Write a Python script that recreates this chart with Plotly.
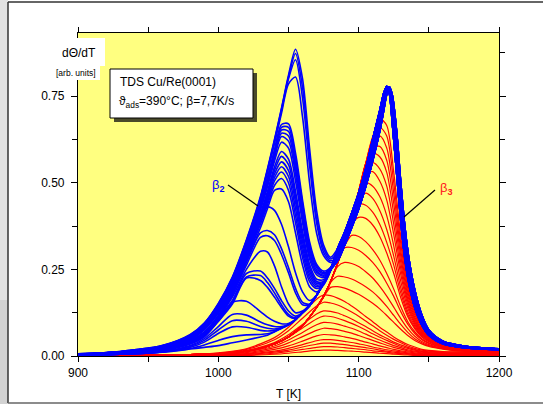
import plotly.graph_objects as go

# ---------------- data ----------------
T_blue = [900, 930, 960, 980, 990, 1000, 1010, 1020, 1030, 1035, 1040, 1045, 1050, 1055, 1060, 1065, 1070, 1075, 1080]
T_tail = [1085, 1090, 1095, 1100, 1105, 1110, 1115, 1118, 1120, 1122, 1124, 1127, 1130, 1133, 1136, 1140, 1145, 1150, 1160, 1175, 1200]

tail_a = [.31, .357, .412, .47, .54, .625, .708, .76, .778, .755, .67, .53, .39, .28, .205, .14, .09, .06, .035, .024, .018]
tail_b = [.30, .345, .398, .455, .523, .605, .69, .748, .776, .768, .70, .57, .425, .31, .228, .155, .099, .064, .037, .026, .019]
tail_c = [.288, .333, .384, .44, .505, .585, .67, .732, .77, .776, .73, .61, .46, .34, .252, .172, .108, .069, .04, .027, .02]
tail_d = [.275, .32, .37, .424, .488, .563, .648, .712, .755, .775, .752, .65, .50, .37, .275, .19, .118, .075, .043, .029, .021]

b01 = [.006, .013, .03, .062, .095, .152, .228, .335, .46, .54, .625, .715, .81, .885, .80, .60, .42, .32, .285]
b02 = [.006, .013, .03, .061, .094, .15, .226, .333, .457, .537, .622, .712, .805, .873, .775, .575, .40, .31, .28]
b03 = [.006, .012, .029, .06, .093, .149, .224, .33, .454, .534, .618, .708, .80, .855, .745, .55, .385, .30, .275]
b04 = [.005, .012, .029, .059, .092, .147, .222, .327, .45, .53, .613, .70, .785, .805, .69, .50, .355, .29, .27]
b05 = [.005, .012, .028, .058, .09, .145, .218, .32, .44, .515, .595, .668, .67, .585, .45, .33, .265, .245, .255]
b06 = [.005, .012, .028, .057, .089, .143, .216, .318, .437, .51, .59, .66, .66, .57, .44, .32, .26, .24, .255]
b07 = [.005, .011, .027, .056, .088, .142, .214, .315, .433, .505, .585, .652, .648, .555, .43, .31, .255, .237, .255]
b08 = [.005, .011, .027, .055, .087, .14, .212, .312, .43, .5, .578, .643, .635, .54, .415, .30, .248, .233, .252]
b09 = [.005, .011, .026, .054, .086, .139, .21, .31, .426, .495, .572, .633, .62, .525, .40, .29, .242, .23, .25]
b10 = [.005, .011, .026, .054, .085, .137, .208, .306, .42, .488, .562, .617, .60, .505, .385, .28, .235, .226, .25]
b11 = [.004, .01, .025, .053, .083, .135, .204, .30, .41, .475, .545, .59, .568, .475, .36, .265, .222, .22, .248]
b12 = [.004, .01, .025, .052, .082, .133, .201, .296, .405, .468, .535, .576, .552, .46, .345, .255, .215, .215, .248]
b13 = [.004, .01, .024, .051, .081, .131, .198, .292, .40, .46, .525, .56, .535, .445, .33, .245, .21, .213, .248]
b14 = [.004, .01, .024, .05, .08, .13, .196, .288, .394, .452, .515, .546, .518, .425, .315, .235, .205, .21, .248]
b15 = [.004, .01, .023, .049, .078, .128, .193, .284, .388, .444, .505, .531, .50, .405, .30, .225, .20, .208, .247]
b16 = [.004, .009, .023, .048, .077, .126, .19, .28, .38, .436, .492, .512, .478, .385, .285, .215, .195, .207, .247]
b17 = [.004, .009, .022, .047, .075, .123, .186, .274, .37, .425, .478, .482, .445, .355, .262, .20, .185, .205, .246]
b18 = [.004, .009, .021, .045, .07, .118, .185, .30, .405, .43, .42, .38, .315, .24, .185, .16, .175, .21, .25]
b19 = [.003, .008, .02, .043, .068, .115, .18, .27, .355, .362, .35, .31, .255, .195, .155, .15, .175, .21, .25]
b20 = [.003, .008, .02, .042, .067, .112, .176, .262, .342, .347, .333, .293, .24, .182, .148, .148, .175, .21, .25]
b21 = [.003, .008, .019, .04, .064, .11, .17, .25, .302, .30, .26, .20, .15, .125, .13, .148, .175, .21, .25]
b22 = [.003, .007, .018, .038, .06, .108, .16, .238, .245, .225, .195, .16, .13, .115, .125, .145, .175, .21, .25]
b23 = [.003, .007, .017, .036, .057, .104, .155, .228, .232, .212, .182, .148, .12, .11, .125, .145, .175, .21, .25]
b24 = [.003, .007, .017, .035, .055, .10, .15, .225, .218, .198, .17, .14, .115, .108, .125, .145, .175, .21, .25]
b25 = [.002, .006, .015, .035, .06, .10, .155, .158, .128, .112, .10, .093, .094, .105, .125, .145, .175, .21, .25]
b26 = [.002, .005, .013, .03, .05, .085, .12, .118, .098, .09, .085, .085, .09, .105, .125, .145, .175, .21, .25]
b27 = [.002, .005, .012, .028, .045, .075, .102, .10, .085, .08, .078, .082, .09, .105, .125, .145, .175, .21, .25]
b28 = [.002, .005, .012, .025, .04, .065, .084, .083, .074, .072, .074, .08, .09, .105, .125, .145, .175, .21, .25]
b29 = [.002, .005, .012, .022, .032, .045, .056, .061, .062, .064, .07, .08, .09, .105, .125, .145, .175, .21, .25]
b30 = [.002, .005, .011, .02, .025, .03, .038, .046, .055, .06, .07, .08, .09, .105, .125, .145, .175, .21, .25]

blue_curves = [b01, b02, b03, b04, b05, b06, b07, b08, b09, b10, b11, b12, b13, b14, b15,
               b16, b17, b18, b19, b20, b21, b22, b23, b24, b25, b26, b27, b28, b29, b30]
blue_tails = [tail_a, tail_b, tail_c, tail_d]

T_red = [900, 950, 980, 1000, 1020, 1040, 1050, 1060, 1070, 1075, 1080, 1085, 1090, 1095, 1100, 1105,
         1110, 1115, 1120, 1125, 1130, 1135, 1140, 1145, 1150, 1160, 1170, 1185, 1200]
red_edge = [0, .002, .004, .007, .014, .035, .055, .088, .14, .172, .215, .268, .327, .398, .475, .555, .632, .685]

r01 = red_edge[:18] + [.665, .53, .345, .205, .13, .088, .062, .036, .026, .02, .017]
r02 = red_edge[:17] + [.66, .635, .50, .325, .195, .124, .084, .06, .035, .025, .019, .016]
r03 = red_edge[:16] + [.615, .635, .60, .47, .305, .185, .118, .08, .057, .034, .024, .019, .016]
r04 = red_edge[:16] + [.60, .605, .565, .44, .288, .175, .112, .076, .055, .033, .024, .018, .015]
r05 = red_edge[:16] + [.586, .575, .53, .41, .27, .165, .107, .073, .053, .032, .023, .018, .015]
r06 = red_edge[:15] + [.535, .558, .54, .49, .38, .252, .157, .102, .07, .051, .031, .023, .018, .015]
r07 = red_edge[:15] + [.525, .532, .505, .45, .35, .235, .148, .097, .067, .049, .03, .022, .017, .015]
r08 = red_edge[:14] + [.46, .50, .49, .46, .405, .318, .215, .138, .092, .064, .047, .029, .022, .017, .014]
r09 = red_edge[:14] + [.452, .47, .455, .42, .365, .288, .197, .128, .087, .061, .045, .028, .021, .017, .014]
r10 = red_edge[:13] + [.39, .437, .435, .415, .38, .328, .262, .182, .12, .082, .058, .043, .027, .021, .016, .014]
r11 = red_edge[:13] + [.38, .40, .397, .378, .345, .297, .238, .168, .113, .078, .055, .041, .026, .02, .016, .013]
r12 = red_edge[:12] + [.318, .348, .345, .33, .307, .277, .238, .193, .142, .099, .07, .05, .038, .025, .019, .015, .013]
r13 = red_edge[:12] + [.312, .313, .305, .29, .27, .244, .21, .172, .128, .092, .065, .047, .036, .024, .018, .015, .012]
r14 = red_edge[:11] + [.258, .27, .267, .258, .243, .225, .201, .173, .141, .108, .079, .057, .042, .033, .022, .017, .014, .012]
r15 = red_edge[:10] + [.212, .23, .228, .222, .212, .20, .185, .166, .143, .117, .091, .068, .05, .038, .03, .021, .016, .013, .011]
r16 = red_edge[:9] + [.17, .198, .20, .196, .188, .178, .166, .152, .136, .117, .097, .077, .059, .045, .035, .028, .02, .015, .012, .011]
r17 = [0, .002, .004, .009, .021, .053, .083, .123, .164, .176, .174, .167, .157, .144, .13, .114, .099, .083, .069, .055, .043, .033, .026, .019, .016, .013, .012, .011, .011]
r18 = [0, .002, .004, .008, .019, .047, .073, .109, .144, .155, .153, .147, .138, .127, .115, .101, .087, .073, .06, .048, .038, .029, .022, .017, .014, .012, .011, .01, .009]
r19 = [0, .001, .003, .007, .016, .039, .061, .091, .121, .13, .129, .124, .116, .107, .096, .085, .073, .061, .051, .04, .032, .025, .019, .014, .012, .01, .009, .008, .008]
r20 = [0, .001, .003, .006, .014, .035, .054, .081, .107, .115, .114, .109, .102, .094, .085, .075, .064, .054, .045, .036, .028, .022, .017, .013, .01, .009, .008, .007, .007]
r21 = [0, .001, .002, .005, .012, .029, .046, .068, .09, .097, .096, .092, .086, .08, .072, .063, .054, .046, .038, .03, .024, .018, .014, .011, .009, .007, .007, .006, .006]
r22 = [0, .001, .002, .004, .01, .024, .038, .056, .074, .08, .079, .076, .071, .066, .059, .052, .045, .038, .031, .025, .02, .015, .012, .009, .007, .006, .006, .005, .005]
r23 = [0, .001, .002, .003, .007, .019, .029, .043, .058, .062, .061, .059, .055, .051, .046, .04, .035, .029, .024, .019, .015, .012, .009, .007, .006, .005, .004, .004, .004]
r24 = [0, 0, .001, .002, .006, .014, .022, .033, .044, .047, .047, .045, .042, .039, .035, .031, .026, .022, .018, .015, .012, .009, .007, .005, .004, .004, .003, .003, .003]
r25 = [0, 0, .001, .002, .004, .011, .017, .026, .034, .037, .037, .035, .033, .03, .027, .024, .021, .017, .014, .011, .009, .007, .005, .004, .003, .003, .003, .002, .002]
r26 = [0, 0, .001, .001, .003, .008, .013, .019, .025, .027, .027, .026, .024, .022, .02, .018, .015, .013, .011, .008, .007, .005, .004, .003, .002, .002, .002, .002, .002]
r27 = [0, 0, 0, .001, .002, .005, .008, .012, .016, .017, .017, .016, .015, .014, .013, .011, .01, .008, .007, .005, .004, .003, .002, .002, .002, .001, .001, .001, .001]

red_curves = [r01, r02, r03, r04, r05, r06, r07, r08, r09, r10, r11, r12, r13, r14,
              r15, r16, r17, r18, r19, r20, r21, r22, r23, r24, r25, r26, r27]

x_ticks = [900, 1000, 1100, 1200]
y_ticks = [0.0, 0.25, 0.5, 0.75]

# ---------------- figure ----------------
FONT = "Liberation Sans, Arial, sans-serif"
W, H = 543, 404
L, R, T, B = 78, 44, 33, 48
PW, PH = W - L - R, H - T - B


def px(x):
    return (x - L) / PW


def py(y):
    return (H - B - y) / PH


fig = go.Figure()
for vals in red_curves:
    fig.add_trace(go.Scatter(x=T_red, y=vals, mode="lines",
                             line=dict(color="#FF0000", width=1.2, shape="spline", smoothing=0.8),
                             hoverinfo="skip", showlegend=False))
for i, vals in enumerate(blue_curves):
    fig.add_trace(go.Scatter(x=T_blue + T_tail, y=vals + blue_tails[i % 4], mode="lines",
                             line=dict(color="#0000FF", width=1.6, shape="spline", smoothing=0.8),
                             hoverinfo="skip", showlegend=False))

axis_common = dict(showgrid=False, zeroline=False, showline=True, linecolor="black", linewidth=1.2,
                   mirror="allticks", ticks="outside", tickcolor="black", tickwidth=1,
                   tickfont=dict(family=FONT, size=12, color="black"))

fig.update_layout(
    width=W, height=H, margin=dict(l=L, r=R, t=T, b=B, pad=0),
    paper_bgcolor="white", plot_bgcolor="#FFFF80",
    font=dict(family=FONT, color="black"),
    xaxis=dict(range=[900, 1200], tickvals=x_ticks, ticklen=5,
               minor=dict(tickvals=[950, 1050, 1150], ticks="outside", ticklen=5, tickcolor="black"),
               **axis_common),
    yaxis=dict(range=[0, 0.932], tickvals=y_ticks, tickformat=".2f", ticklen=6, ticklabelstandoff=4,
               minor=dict(tickvals=[0.125, 0.375, 0.625, 0.875], ticks="outside", ticklen=5, tickcolor="black"),
               **axis_common),
)

shapes = [
    # page frame and left shading
    dict(type="rect", xref="paper", yref="paper", x0=px(0), x1=px(8), y0=py(404), y1=py(0),
         fillcolor="#e2e2e2", line=dict(width=0), layer="above"),
    dict(type="rect", xref="paper", yref="paper", x0=px(0), x1=px(8), y0=py(404), y1=py(300),
         fillcolor="#d2d2d2", line=dict(width=0), layer="above"),
    dict(type="line", xref="paper", yref="paper", x0=px(8), x1=px(8), y0=py(403), y1=py(2),
         line=dict(color="#333333", width=1.5), layer="above"),
    dict(type="line", xref="paper", yref="paper", x0=px(8), x1=px(543), y0=py(2), y1=py(2),
         line=dict(color="#333333", width=1.5), layer="above"),
    dict(type="line", xref="paper", yref="paper", x0=px(8), x1=px(543), y0=py(403), y1=py(403),
         line=dict(color="#666666", width=1.5), layer="above"),
    # white patch behind the y label
    dict(type="rect", xref="paper", yref="paper", x0=px(40), x1=px(105), y0=py(66), y1=py(38),
         fillcolor="white", line=dict(width=0), layer="above"),
    dict(type="rect", xref="paper", yref="paper", x0=px(40), x1=px(100), y0=py(80), y1=py(66),
         fillcolor="white", line=dict(width=0), layer="above"),
    # legend box with shadow
    dict(type="rect", xref="paper", yref="paper", x0=px(114), x1=px(257), y0=py(122), y1=py(73),
         fillcolor="#4a4a2a", line=dict(width=0), layer="above"),
    dict(type="rect", xref="paper", yref="paper", x0=px(110), x1=px(253), y0=py(118), y1=py(69),
         fillcolor="white", line=dict(color="black", width=1), layer="above"),
    # pointer lines
    dict(type="line", xref="paper", yref="paper", x0=px(228), x1=px(258), y0=py(185), y1=py(206),
         line=dict(color="black", width=1.2), layer="above"),
    dict(type="line", xref="paper", yref="paper", x0=px(435), x1=px(404), y0=py(190), y1=py(217),
         line=dict(color="black", width=1.2), layer="above"),
]
fig.update_layout(shapes=shapes)

ann = [
    dict(text="d\u0398/dT", x=px(79), y=py(53), size=12, color="black", xanchor="center"),
    dict(text="[arb. units]", x=px(76), y=py(73), size=8.5, color="black", xanchor="center"),
    dict(text="TDS Cu/Re(0001)", x=px(118), y=py(82), size=12, color="black", xanchor="left"),
    dict(text="\u03d1<sub>ads</sub>=390\u00b0C; \u03b2=7,7K/s", x=px(117), y=py(102), size=12,
         color="black", xanchor="left"),
    dict(text="\u03b2<sub><b>2</b></sub>", x=px(218), y=py(185), size=13, color="#0000FF", xanchor="center"),
    dict(text="\u03b2<sub><b>3</b></sub>", x=px(446), y=py(188), size=13, color="#FF2020", xanchor="center"),
    dict(text="T [K]", x=px(288), y=py(394), size=12, color="black", xanchor="center"),
]
for a in ann:
    fig.add_annotation(text=a["text"], x=a["x"], y=a["y"], xref="paper", yref="paper",
                       xanchor=a["xanchor"], yanchor="middle", showarrow=False,
                       font=dict(family=FONT, size=a["size"], color=a["color"]))

fig.write_html("out.html", config={"displayModeBar": False},
               post_script="document.body.style.margin='0';document.body.style.overflow='hidden';")
